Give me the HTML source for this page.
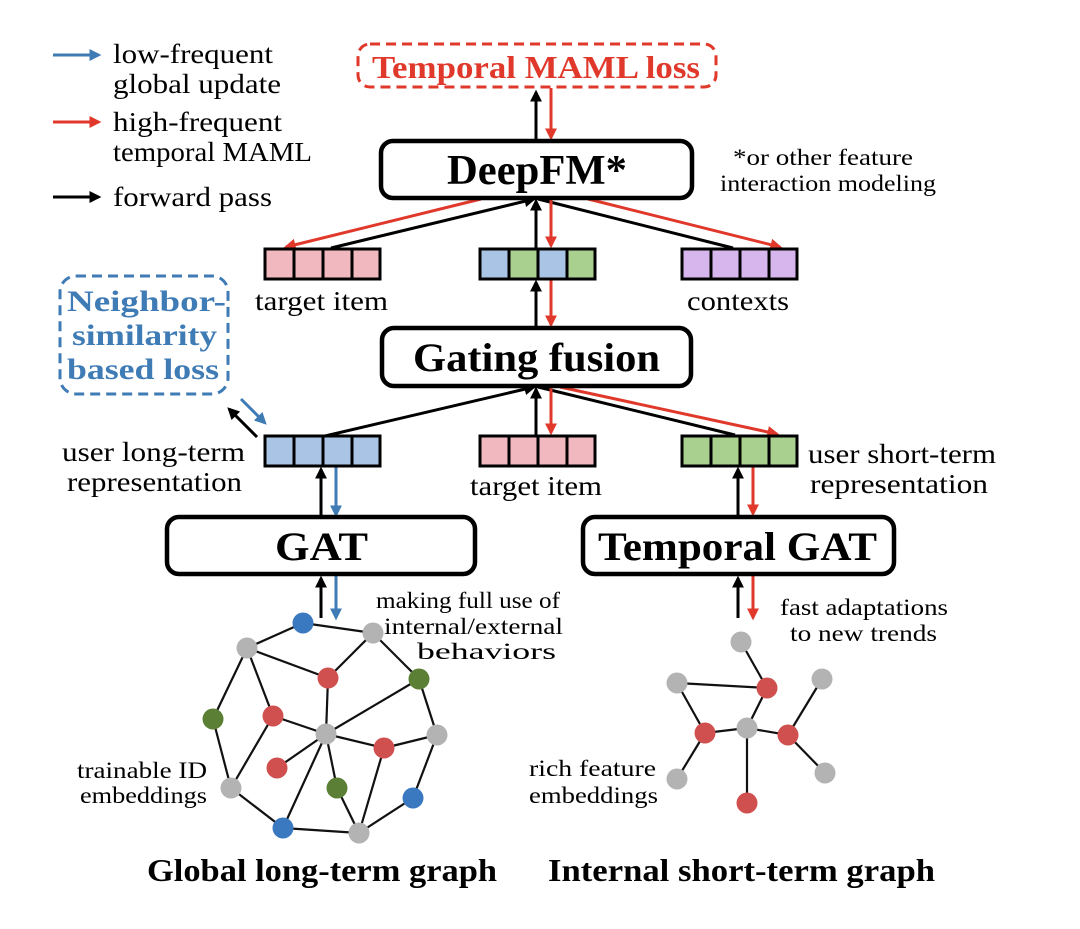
<!DOCTYPE html>
<html><head><meta charset="utf-8"><style>
html,body{margin:0;padding:0;background:#fff;}
svg{display:block;font-family:"Liberation Serif",serif;}
</style></head><body>
<svg width="1080" height="929" viewBox="0 0 1080 929" xmlns="http://www.w3.org/2000/svg">
<defs>
<marker id="ak" markerWidth="4" markerHeight="4" refX="3.2" refY="2" orient="auto" markerUnits="strokeWidth"><path d="M0,0 L4,2 L0,4 z" fill="#000"/></marker>
<marker id="ar" markerWidth="4" markerHeight="4" refX="3.2" refY="2" orient="auto" markerUnits="strokeWidth"><path d="M0,0 L4,2 L0,4 z" fill="#e0392b"/></marker>
<marker id="ab" markerWidth="4" markerHeight="4" refX="3.2" refY="2" orient="auto" markerUnits="strokeWidth"><path d="M0,0 L4,2 L0,4 z" fill="#3f7bb5"/></marker>
</defs>
<g stroke-width="3" fill="none">
<line x1="53" y1="55" x2="99" y2="55" stroke="#3f7bb5" marker-end="url(#ab)"/>
<line x1="53" y1="122" x2="99" y2="122" stroke="#e0392b" marker-end="url(#ar)"/>
<line x1="53" y1="197" x2="99" y2="197" stroke="#000" marker-end="url(#ak)"/>
<line x1="536" y1="140" x2="536" y2="92" stroke="#000" marker-end="url(#ak)"/>
<line x1="551" y1="88" x2="551" y2="138" stroke="#e0392b" marker-end="url(#ar)"/>
<line x1="331" y1="248" x2="534" y2="199" stroke="#000" marker-end="url(#ak)"/>
<line x1="733" y1="248" x2="538" y2="199" stroke="#000"/>
<line x1="481" y1="199" x2="286" y2="247" stroke="#e0392b" marker-end="url(#ar)"/>
<line x1="588" y1="199" x2="780" y2="247" stroke="#e0392b" marker-end="url(#ar)"/>
<line x1="536" y1="248" x2="536" y2="201" stroke="#000" marker-end="url(#ak)"/>
<line x1="551" y1="199" x2="551" y2="246" stroke="#e0392b" marker-end="url(#ar)"/>
<line x1="536" y1="327" x2="536" y2="282" stroke="#000" marker-end="url(#ak)"/>
<line x1="551" y1="279" x2="551" y2="325" stroke="#e0392b" marker-end="url(#ar)"/>
<line x1="325" y1="436" x2="534" y2="387" stroke="#000" marker-end="url(#ak)"/>
<line x1="735" y1="435" x2="538" y2="387" stroke="#000"/>
<line x1="560" y1="387" x2="777" y2="434" stroke="#e0392b" marker-end="url(#ar)"/>
<line x1="536" y1="435" x2="536" y2="389" stroke="#000" marker-end="url(#ak)"/>
<line x1="551" y1="387" x2="551" y2="433" stroke="#e0392b" marker-end="url(#ar)"/>
<line x1="257" y1="437" x2="229" y2="409" stroke="#000" marker-end="url(#ak)"/>
<line x1="241" y1="399" x2="265" y2="423" stroke="#3f7bb5" marker-end="url(#ab)"/>
<line x1="321" y1="517" x2="321" y2="469" stroke="#000" marker-end="url(#ak)"/>
<line x1="336" y1="466" x2="336" y2="515" stroke="#3f7bb5" marker-end="url(#ab)"/>
<line x1="321" y1="618" x2="321" y2="578" stroke="#000" marker-end="url(#ak)"/>
<line x1="336" y1="575" x2="336" y2="618" stroke="#3f7bb5" marker-end="url(#ab)"/>
<line x1="738" y1="516" x2="738" y2="469" stroke="#000" marker-end="url(#ak)"/>
<line x1="753" y1="466" x2="753" y2="514" stroke="#e0392b" marker-end="url(#ar)"/>
<line x1="738" y1="618" x2="738" y2="578" stroke="#000" marker-end="url(#ak)"/>
<line x1="753" y1="575" x2="753" y2="618" stroke="#e0392b" marker-end="url(#ar)"/>
</g>
<g stroke="#000" stroke-width="4.5" fill="#fff">
<rect x="381" y="141" width="311" height="57" rx="12"/>
<rect x="382" y="328" width="309" height="58" rx="12"/>
<rect x="167" y="517" width="308" height="57" rx="12"/>
<rect x="583" y="517" width="311" height="57" rx="12"/>
</g>
<rect x="358" y="44" width="358" height="43" rx="12" fill="none" stroke="#e0392b" stroke-width="3" stroke-dasharray="10,6"/>
<rect x="60" y="276" width="168" height="118" rx="16" fill="none" stroke="#3f7bb5" stroke-width="3" stroke-dasharray="10,6"/>
<g stroke="#000" stroke-width="3">
<g fill="#f2b8bf"><rect x="265" y="249" width="29" height="30"/><rect x="294" y="249" width="29" height="30"/><rect x="323" y="249" width="29" height="30"/><rect x="352" y="249" width="28" height="30"/></g>
<rect x="480" y="249" width="29" height="30" fill="#a9c4e4"/><rect x="509" y="249" width="29" height="30" fill="#a9d08e"/><rect x="538" y="249" width="29" height="30" fill="#a9c4e4"/><rect x="567" y="249" width="28" height="30" fill="#a9d08e"/>
<g fill="#d6b6ec"><rect x="682" y="249" width="29" height="30"/><rect x="711" y="249" width="29" height="30"/><rect x="740" y="249" width="29" height="30"/><rect x="769" y="249" width="28" height="30"/></g>
<g fill="#a9c4e4"><rect x="265" y="436" width="29" height="30"/><rect x="294" y="436" width="29" height="30"/><rect x="323" y="436" width="29" height="30"/><rect x="352" y="436" width="28" height="30"/></g>
<g fill="#f2b8bf"><rect x="480" y="436" width="29" height="30"/><rect x="509" y="436" width="29" height="30"/><rect x="538" y="436" width="29" height="30"/><rect x="567" y="436" width="28" height="30"/></g>
<g fill="#a9d08e"><rect x="682" y="436" width="29" height="30"/><rect x="711" y="436" width="29" height="30"/><rect x="740" y="436" width="29" height="30"/><rect x="769" y="436" width="28" height="30"/></g>
</g>
<g stroke="#111" stroke-width="2.2">
<line x1="303" y1="623" x2="373" y2="633"/><line x1="303" y1="623" x2="247" y2="648"/><line x1="247" y1="648" x2="328" y2="678"/><line x1="373" y1="633" x2="328" y2="678"/><line x1="373" y1="633" x2="419" y2="679"/><line x1="247" y1="648" x2="213" y2="719"/><line x1="247" y1="648" x2="273" y2="716"/><line x1="328" y1="678" x2="326" y2="734"/><line x1="419" y1="679" x2="326" y2="734"/><line x1="419" y1="679" x2="437" y2="735"/><line x1="273" y1="716" x2="326" y2="734"/><line x1="273" y1="716" x2="231" y2="788"/><line x1="213" y1="719" x2="231" y2="788"/><line x1="326" y1="734" x2="384" y2="748"/><line x1="384" y1="748" x2="437" y2="735"/><line x1="326" y1="734" x2="277" y2="768"/><line x1="326" y1="734" x2="337" y2="788"/><line x1="326" y1="734" x2="283" y2="828"/><line x1="337" y1="788" x2="359" y2="833"/><line x1="384" y1="748" x2="359" y2="833"/><line x1="437" y1="735" x2="413" y2="798"/><line x1="413" y1="798" x2="359" y2="833"/><line x1="231" y1="788" x2="283" y2="828"/><line x1="283" y1="828" x2="359" y2="833"/>
<line x1="741" y1="642" x2="767" y2="688"/><line x1="677" y1="683" x2="767" y2="688"/><line x1="677" y1="683" x2="705" y2="733"/><line x1="767" y1="688" x2="747" y2="728"/><line x1="705" y1="733" x2="747" y2="728"/><line x1="747" y1="728" x2="788" y2="735"/><line x1="822" y1="679" x2="788" y2="735"/><line x1="788" y1="735" x2="825" y2="773"/><line x1="705" y1="733" x2="677" y2="779"/><line x1="747" y1="728" x2="747" y2="803"/>
</g>
<g>
<circle cx="303" cy="623" r="10.5" fill="#3a78c0"/><circle cx="373" cy="633" r="10.5" fill="#b3b3b3"/><circle cx="247" cy="648" r="10.5" fill="#b3b3b3"/><circle cx="328" cy="678" r="10.5" fill="#d0504f"/><circle cx="419" cy="679" r="10.5" fill="#5a7f35"/><circle cx="213" cy="719" r="10.5" fill="#5a7f35"/><circle cx="273" cy="716" r="10.5" fill="#d0504f"/><circle cx="326" cy="734" r="10.5" fill="#b3b3b3"/><circle cx="437" cy="735" r="10.5" fill="#b3b3b3"/><circle cx="384" cy="748" r="10.5" fill="#d0504f"/><circle cx="277" cy="768" r="10.5" fill="#d0504f"/><circle cx="337" cy="788" r="10.5" fill="#5a7f35"/><circle cx="231" cy="788" r="10.5" fill="#b3b3b3"/><circle cx="413" cy="798" r="10.5" fill="#3a78c0"/><circle cx="283" cy="828" r="10.5" fill="#3a78c0"/><circle cx="359" cy="833" r="10.5" fill="#b3b3b3"/>
<circle cx="741" cy="642" r="10.5" fill="#b3b3b3"/><circle cx="677" cy="683" r="10.5" fill="#b3b3b3"/><circle cx="767" cy="688" r="10.5" fill="#d0504f"/><circle cx="822" cy="679" r="10.5" fill="#b3b3b3"/><circle cx="705" cy="733" r="10.5" fill="#d0504f"/><circle cx="747" cy="728" r="10.5" fill="#b3b3b3"/><circle cx="788" cy="735" r="10.5" fill="#d0504f"/><circle cx="677" cy="779" r="10.5" fill="#b3b3b3"/><circle cx="825" cy="773" r="10.5" fill="#b3b3b3"/><circle cx="747" cy="803" r="10.5" fill="#d0504f"/>
</g>
<g font-size="27" fill="#000" lengthAdjust="spacingAndGlyphs">
<text x="113" y="63" textLength="160" lengthAdjust="spacingAndGlyphs">low-frequent</text>
<text x="113" y="93" textLength="168" lengthAdjust="spacingAndGlyphs">global update</text>
<text x="113" y="131" textLength="169" lengthAdjust="spacingAndGlyphs">high-frequent</text>
<text x="113" y="161" textLength="199" lengthAdjust="spacingAndGlyphs">temporal MAML</text>
<text x="113" y="206" textLength="159" lengthAdjust="spacingAndGlyphs">forward pass</text>
<text x="255" y="310" textLength="133" lengthAdjust="spacingAndGlyphs">target item</text>
<text x="687" y="310" textLength="102" lengthAdjust="spacingAndGlyphs">contexts</text>
<text x="62" y="461" textLength="183" lengthAdjust="spacingAndGlyphs">user long-term</text>
<text x="67" y="491" textLength="175" lengthAdjust="spacingAndGlyphs">representation</text>
<text x="470" y="495" textLength="132" lengthAdjust="spacingAndGlyphs">target item</text>
<text x="808" y="463" textLength="188" lengthAdjust="spacingAndGlyphs">user short-term</text>
<text x="810" y="493" textLength="178" lengthAdjust="spacingAndGlyphs">representation</text>
</g>
<g font-size="23" fill="#000">
<text x="733" y="165" textLength="180" lengthAdjust="spacingAndGlyphs">*or other feature</text>
<text x="720" y="191" textLength="216" lengthAdjust="spacingAndGlyphs">interaction modeling</text>
<text x="376" y="608" textLength="184" lengthAdjust="spacingAndGlyphs">making full use of</text>
<text x="384" y="634" textLength="179" lengthAdjust="spacingAndGlyphs">internal/external</text>
<text x="417" y="659" textLength="139" lengthAdjust="spacingAndGlyphs">behaviors</text>
<text x="780" y="615" textLength="168" lengthAdjust="spacingAndGlyphs">fast adaptations</text>
<text x="790" y="641" textLength="147" lengthAdjust="spacingAndGlyphs">to new trends</text>
<text x="77" y="778" textLength="130" lengthAdjust="spacingAndGlyphs">trainable ID</text>
<text x="80" y="803" textLength="127" lengthAdjust="spacingAndGlyphs">embeddings</text>
<text x="529" y="776" textLength="127" lengthAdjust="spacingAndGlyphs">rich feature</text>
<text x="529" y="803" textLength="129" lengthAdjust="spacingAndGlyphs">embeddings</text>
</g>
<g font-weight="bold">
<text x="372" y="78" font-size="32" fill="#e0392b" textLength="328" lengthAdjust="spacingAndGlyphs">Temporal MAML loss</text>
<text x="447" y="184" font-size="42" textLength="180" lengthAdjust="spacingAndGlyphs">DeepFM*</text>
<text x="413" y="371" font-size="40" textLength="247" lengthAdjust="spacingAndGlyphs">Gating fusion</text>
<text x="275" y="560" font-size="40" textLength="93" lengthAdjust="spacingAndGlyphs">GAT</text>
<text x="598" y="560" font-size="40" textLength="279" lengthAdjust="spacingAndGlyphs">Temporal GAT</text>
<text x="67" y="311" font-size="30" fill="#3f7bb5" textLength="159" lengthAdjust="spacingAndGlyphs">Neighbor-</text>
<text x="72" y="345" font-size="30" fill="#3f7bb5" textLength="145" lengthAdjust="spacingAndGlyphs">similarity</text>
<text x="67" y="379" font-size="30" fill="#3f7bb5" textLength="152" lengthAdjust="spacingAndGlyphs">based loss</text>
<text x="147" y="881" font-size="32" textLength="350" lengthAdjust="spacingAndGlyphs">Global long-term graph</text>
<text x="548" y="881" font-size="32" textLength="387" lengthAdjust="spacingAndGlyphs">Internal short-term graph</text>
</g>
</svg>
</body></html>
